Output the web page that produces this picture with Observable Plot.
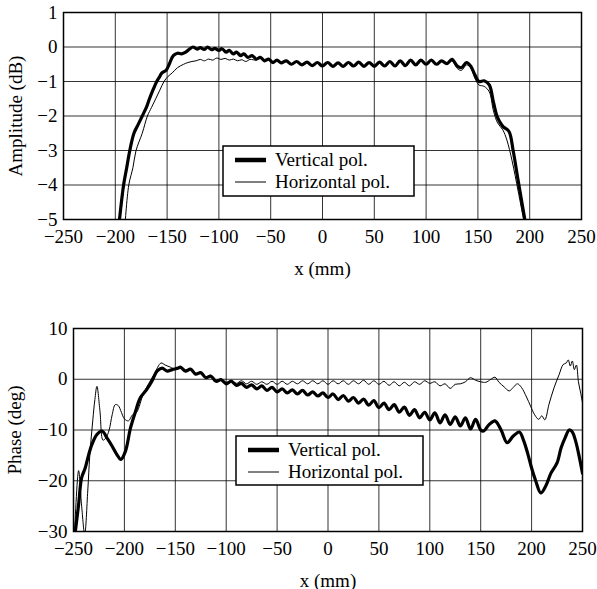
<!DOCTYPE html>
<html><head><meta charset="utf-8">
<script src="https://cdn.jsdelivr.net/npm/d3@7"></script>
<script src="https://cdn.jsdelivr.net/npm/@observablehq/plot@0.6"></script>
<style>
body{margin:0;background:#fff;}
#wrap{position:relative;width:597px;height:589px;font-family:"Liberation Serif","Times New Roman",serif;}
#wrap svg{display:block}
.leg{position:absolute;left:0;top:0;}
</style></head><body><div id="wrap"></div>
<script>
// ---- tick labels ----
const xTicks = [-250, -200, -150, -100, -50, 0, 50, 100, 150, 200, 250];
const ampTicks = [-5, -4, -3, -2, -1, 0, 1];
const phaseTicks = [-30, -20, -10, 0, 10];
const seriesNames = ["Vertical pol.", "Horizontal pol."];

// ---- amplitude, vertical pol. ----
const ampVx = [-197,-192,-189,-186,-182,-178,-174,-170,-167,-163,-160,-157,-155,-151,-148,-144,-140,-136,-132,-128,-125,-121,-118,-114,-111,-107,-104,-100,-97,-93,-90,-86,-83,-79,-76,-72,-68,-64,-60,-56,-52,-48,-44,-40,-35,-30,-25,-20,-15,-10,-5,0,5,10,15,20,25,30,35,40,45,50,55,60,65,70,75,80,85,90,95,100,105,110,115,120,125,130,134,139,143,147,151,156,161,165,169,174,180,184,189,197];
const ampVy = [-5.3,-4.0,-3.5,-3.0,-2.5,-2.25,-2.0,-1.75,-1.5,-1.2,-1.0,-0.85,-0.75,-0.68,-0.5,-0.25,-0.18,-0.2,-0.15,-0.05,0.0,-0.06,-0.02,-0.07,0.0,-0.08,-0.04,-0.1,-0.05,-0.15,-0.1,-0.2,-0.15,-0.25,-0.2,-0.3,-0.25,-0.35,-0.3,-0.4,-0.35,-0.45,-0.38,-0.46,-0.4,-0.5,-0.42,-0.52,-0.44,-0.54,-0.45,-0.55,-0.45,-0.56,-0.46,-0.56,-0.45,-0.55,-0.44,-0.56,-0.45,-0.56,-0.44,-0.55,-0.42,-0.55,-0.4,-0.54,-0.38,-0.52,-0.38,-0.5,-0.38,-0.5,-0.4,-0.48,-0.36,-0.55,-0.6,-0.45,-0.55,-0.8,-1.0,-0.98,-1.1,-1.6,-2.05,-2.3,-2.45,-3.0,-3.9,-5.3];

// ---- amplitude, horizontal pol. ----
const ampHx = [-191,-187,-183,-180,-174,-169,-165,-161,-157,-153,-149,-145,-140,-134,-130,-126,-122,-118,-114,-110,-106,-102,-98,-94,-90,-86,-82,-78,-74,-70,-64,-60,-56,-52,-48,-44,-40,-35,-30,-25,-20,-15,-10,-5,0,5,10,15,20,25,30,35,40,45,50,55,60,65,70,75,80,85,90,95,100,105,110,115,120,125,130,134,139,143,147,151,156,161,165,169,174,178,183,189,196];
const ampHy = [-5.3,-4.0,-3.5,-3.0,-2.5,-2.0,-1.75,-1.5,-1.25,-1.0,-0.85,-0.75,-0.6,-0.5,-0.45,-0.42,-0.4,-0.36,-0.4,-0.35,-0.38,-0.32,-0.36,-0.33,-0.38,-0.35,-0.4,-0.37,-0.42,-0.36,-0.38,-0.32,-0.42,-0.36,-0.46,-0.39,-0.47,-0.41,-0.51,-0.43,-0.53,-0.45,-0.55,-0.46,-0.56,-0.46,-0.57,-0.47,-0.57,-0.46,-0.56,-0.45,-0.57,-0.46,-0.57,-0.45,-0.56,-0.43,-0.56,-0.41,-0.55,-0.39,-0.53,-0.39,-0.51,-0.39,-0.51,-0.41,-0.5,-0.4,-0.62,-0.68,-0.52,-0.6,-0.9,-1.1,-1.14,-1.3,-1.85,-2.2,-2.4,-2.7,-3.3,-4.2,-5.3];

// ---- phase, vertical pol. ----
const phVx = [-248.5,-245,-242,-238.5,-235,-232,-227,-222,-217,-212,-207.5,-203.5,-199,-194,-189,-184.5,-178,-173,-168,-163,-158,-153,-147,-145,-140,-135,-130,-125,-120,-115,-110,-105,-100,-95,-90,-85,-80,-75,-70,-65,-60,-55,-50,-45,-40,-35,-30,-25,-20,-15,-10,-5,0,5,10,15,20,25,30,35,40,45,50,55,60,65,70,75,80,85,90,95,100,105,110,115,120,125,130,135,140,145,150,153,158,164,170,176,182,188,192,196,200,204,209,214,219,225,229,233,237,240,243,246,250];
const phVy = [-30.5,-24.7,-19.4,-17.5,-14.8,-12.9,-10.9,-10.2,-11.6,-13.2,-14.8,-15.8,-14.2,-9.6,-6.3,-3.7,-2.0,-0.4,1.6,2.2,1.6,1.9,2.2,2.4,1.6,2.0,1.0,1.3,0.3,0.6,-0.4,-0.1,-0.9,-0.4,-1.2,-0.8,-1.6,-1.1,-1.9,-1.3,-2.2,-1.6,-2.5,-1.9,-2.7,-2.1,-2.9,-2.2,-3.1,-2.5,-3.3,-2.7,-3.6,-2.9,-4.0,-3.2,-4.3,-3.6,-4.7,-3.9,-5.1,-4.2,-5.6,-4.7,-6.0,-5.0,-6.5,-5.5,-7.1,-6.0,-7.6,-6.5,-8.0,-6.6,-8.6,-7.0,-8.9,-7.4,-9.2,-7.6,-9.8,-7.9,-10.0,-10.2,-9.0,-8.2,-10.0,-12.5,-11.2,-10.4,-12.0,-14.5,-17.5,-20.0,-22.4,-21.0,-18.5,-16.5,-13.5,-11.5,-10.0,-10.4,-12.0,-14.5,-18.5];

// ---- phase, horizontal pol. ----
const phHx = [-249,-245,-242,-239,-236,-234,-231,-229,-227,-224,-221,-218,-215,-212,-209,-206,-203,-200,-196,-192,-188,-181,-171,-164,-160,-155,-150,-145,-140,-135,-130,-125,-120,-115,-110,-105,-100,-95,-90,-85,-80,-75,-70,-65,-60,-55,-50,-45,-40,-35,-30,-25,-20,-15,-10,-5,0,5,10,15,20,25,30,35,40,45,50,55,60,65,70,75,80,85,90,95,100,105,110,115,120,125,130,135,140,145,150,155,160,164,168,173,178,182,186,190,195,199,203,207,210,213,217,222,227,231,234,236,238,240,242,244,246,248,250];
const phHy = [-30.5,-18,-25,-30.5,-22,-15,-8,-4,-1.4,-6.3,-12,-11.5,-10,-7,-5,-5.2,-6.5,-7.8,-8.2,-7,-6.5,-2.7,0.9,3.2,2.8,2.4,2.0,2.5,1.8,2.1,1.2,1.4,0.5,0.8,-0.2,0.1,-0.6,-0.2,-0.8,-0.3,-0.9,-0.4,-1.0,-0.5,-1.0,-0.4,-1.0,-0.4,-1.0,-0.4,-0.9,-0.3,-0.9,-0.3,-0.9,-0.3,-1.0,-0.3,-0.9,-0.3,-1.0,-0.3,-0.9,-0.2,-1.0,-0.3,-1.0,-0.4,-1.2,-0.5,-1.3,-0.6,-1.3,-0.5,-1.0,-0.3,-0.8,-0.5,-1.3,-0.9,-1.8,-1.0,-0.9,-0.5,0.3,-0.2,-0.5,-0.6,0.0,0.4,-0.6,-1.5,-2.3,-1.6,-0.9,-1.6,-3.5,-5.3,-7.0,-7.9,-7.2,-8.0,-5.0,-1.7,0.9,2.9,3.2,3.8,2.6,3.6,1.9,2.8,-0.5,-2.5,-4.6];

const toRows = (xs, ys) => xs.map((x, i) => ({x, y: ys[i]}));
const FONT = '"Liberation Serif","Times New Roman",serif';

function panel({thick, thin, yDomain, yTicks, yLabel, height, marginTop, marginBottom, marginLeft, marginRight, labelOffsetY}) {
  return Plot.plot({
    width: 597, height, marginTop, marginBottom, marginLeft, marginRight,
    style: {fontFamily: FONT, fontSize: "19px", color: "#000", background: "#fff", overflow: "visible"},
    x: {domain: [-250, 250]},
    y: {domain: yDomain},
    marks: [
      Plot.gridX(xTicks, {stroke: "#000", strokeOpacity: 0.8, strokeWidth: 1}),
      Plot.gridY(yTicks, {stroke: "#000", strokeOpacity: 0.8, strokeWidth: 1}),
      Plot.line(thin, {x: "x", y: "y", stroke: "#000", strokeWidth: 1, clip: true, curve: "catmull-rom"}),
      Plot.line(thick, {x: "x", y: "y", stroke: "#000", strokeWidth: 3.2, clip: true, strokeLinejoin: "round", curve: "catmull-rom"}),
      Plot.frame({stroke: "#000", strokeWidth: 1.5}),
      Plot.axisX(xTicks, {tickSize: 0, tickPadding: 10, label: "x (mm)", labelAnchor: "center", labelOffset: 55, labelArrow: "none"}),
      Plot.axisY(yTicks, {tickSize: 0, tickPadding: 6, label: yLabel, labelAnchor: "center", labelOffset: labelOffsetY, labelArrow: "none"})
    ]
  });
}

const wrap = document.getElementById("wrap");
wrap.append(panel({
  thick: toRows(ampVx, ampVy), thin: toRows(ampHx, ampHy),
  yDomain: [-5, 1], yTicks: ampTicks, yLabel: "Amplitude (dB)",
  height: 290, marginTop: 12, marginBottom: 71, marginLeft: 63, marginRight: 16, labelOffsetY: 55
}));
wrap.append(panel({
  thick: toRows(phVx, phVy), thin: toRows(phHx, phHy),
  yDomain: [-30, 10], yTicks: phaseTicks, yLabel: "Phase (deg)",
  height: 299, marginTop: 38, marginBottom: 58, marginLeft: 73, marginRight: 15, labelOffsetY: 66
}));

// legends (boxes with line samples)
function legend(left, top, w, h) {
  const svg = d3.create("svg").attr("class", "leg")
    .attr("width", w + 2).attr("height", h + 2)
    .style("position", "absolute").style("left", (left - 1) + "px").style("top", (top - 1) + "px")
    .style("font-family", FONT).style("font-size", "19px");
  svg.append("rect").attr("x", 1).attr("y", 1).attr("width", w).attr("height", h)
    .attr("fill", "#fff").attr("stroke", "#000").attr("stroke-width", 1.5);
  const rows = [{name: seriesNames[0], sw: 4.5, cy: 14}, {name: seriesNames[1], sw: 1, cy: 36}];
  for (const r of rows) {
    svg.append("line").attr("x1", 13).attr("x2", 44).attr("y1", r.cy + 1).attr("y2", r.cy + 1)
      .attr("stroke", "#000").attr("stroke-width", r.sw);
    svg.append("text").attr("x", 53).attr("y", r.cy + 1).attr("dy", "0.33em").text(r.name);
  }
  wrap.append(svg.node());
}
legend(223, 146, 191, 50);
legend(236, 436, 187, 49);
</script></body></html>
